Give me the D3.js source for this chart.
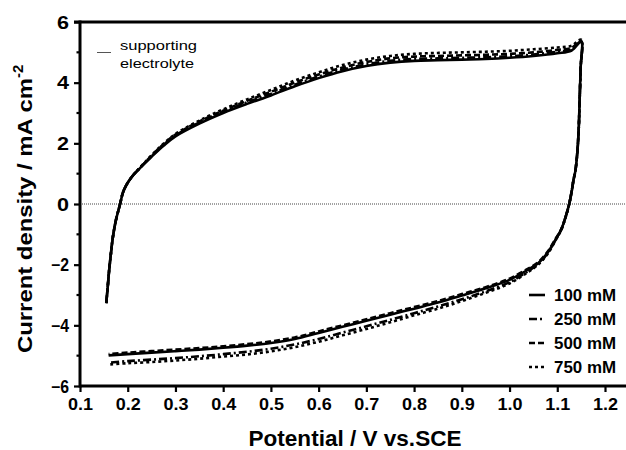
<!DOCTYPE html>
<html>
<head>
<meta charset="utf-8">
<script src="https://cdn.jsdelivr.net/npm/d3@7/dist/d3.min.js"></script>
<style>
  html, body { margin: 0; padding: 0; background: #fff; }
  svg { display: block; }
  text { font-family: "Liberation Sans", Arial, Helvetica, sans-serif; }
</style>
</head>
<body>
<svg id="chart" width="626" height="450"></svg>
<script>
// Potential grid (V vs. SCE) for the anodic and cathodic sweeps
const fwdPotential = [0.155,0.158,0.161,0.165,0.169,0.175,0.184,0.19,0.197,0.205,0.213,0.222,0.235,0.25,0.275,0.3,0.35,0.4,0.45,0.5,0.55,0.6,0.65,0.7,0.75,0.8,0.85,0.9,0.95,1.0,1.05,1.1,1.13,1.15];
const revPotential = [1.149,1.147,1.145,1.142,1.138,1.134,1.13,1.125,1.117,1.108,1.096,1.08,1.06,1.04,1.0,0.95,0.9,0.85,0.8,0.75,0.7,0.65,0.6,0.55,0.5,0.45,0.4,0.35,0.3,0.25,0.2,0.16];

// Current density (mA cm^-2) for each concentration
const fwd100 = [-3.27,-2.75,-2.2,-1.6,-1.08,-0.55,0,0.38,0.62,0.82,0.98,1.12,1.33,1.56,1.92,2.23,2.65,3.0,3.3,3.58,3.88,4.15,4.38,4.55,4.66,4.72,4.74,4.76,4.78,4.82,4.88,4.97,5.06,5.35];
const rev100 = [4.5,3.5,2.5,1.7,1.1,0.79,0.4,0,-0.45,-0.85,-1.18,-1.6,-1.95,-2.15,-2.5,-2.78,-3.02,-3.25,-3.45,-3.65,-3.85,-4.05,-4.25,-4.45,-4.58,-4.67,-4.74,-4.8,-4.85,-4.9,-4.95,-4.99];

const fwd250 = [-3.27,-2.75,-2.2,-1.6,-1.08,-0.55,0,0.38,0.62,0.82,0.98,1.13,1.34,1.58,1.95,2.26,2.69,3.04,3.35,3.63,3.93,4.2,4.43,4.6,4.72,4.78,4.8,4.82,4.84,4.87,4.93,5.02,5.1,5.36];
const rev250 = [4.5,3.5,2.5,1.7,1.1,0.79,0.4,0,-0.45,-0.86,-1.2,-1.62,-1.98,-2.2,-2.58,-2.88,-3.14,-3.38,-3.6,-3.82,-4.03,-4.24,-4.45,-4.63,-4.77,-4.87,-4.95,-5.02,-5.08,-5.13,-5.18,-5.23];

const fwd500 = [-3.27,-2.75,-2.2,-1.6,-1.08,-0.55,0,0.38,0.62,0.82,0.98,1.13,1.35,1.59,1.97,2.29,2.72,3.08,3.4,3.7,4.0,4.27,4.5,4.68,4.8,4.86,4.88,4.9,4.92,4.95,5.0,5.08,5.15,5.38];
const rev500 = [4.5,3.5,2.5,1.7,1.1,0.79,0.4,0,-0.45,-0.84,-1.16,-1.57,-1.92,-2.12,-2.46,-2.74,-2.97,-3.2,-3.4,-3.6,-3.8,-4.0,-4.2,-4.4,-4.53,-4.62,-4.69,-4.75,-4.8,-4.85,-4.9,-4.95];

const fwd750 = [-3.27,-2.75,-2.2,-1.6,-1.08,-0.55,0,0.38,0.62,0.82,0.99,1.14,1.36,1.61,1.99,2.31,2.75,3.12,3.45,3.76,4.07,4.34,4.58,4.76,4.88,4.95,4.98,5.0,5.02,5.05,5.1,5.16,5.22,5.42];
const rev750 = [4.5,3.5,2.5,1.7,1.1,0.79,0.4,0,-0.46,-0.87,-1.21,-1.64,-2.0,-2.23,-2.62,-2.93,-3.2,-3.45,-3.67,-3.9,-4.12,-4.33,-4.54,-4.72,-4.86,-4.96,-5.03,-5.1,-5.16,-5.21,-5.25,-5.29];

const seriesNames = ["100 mM", "250 mM", "500 mM", "750 mM"];
const seriesDash = ["none", "8,3,2,3", "6,3", "3,3"];
const fwdCurrents = [fwd100, fwd250, fwd500, fwd750];
const revCurrents = [rev100, rev250, rev500, rev750];

const xTicks = [0.1,0.2,0.3,0.4,0.5,0.6,0.7,0.8,0.9,1.0,1.1,1.2];
const yTicks = [-6,-4,-2,0,2,4,6];
const yMinorTicks = [-5,-3,-1,1,3,5];

const W = 626, H = 450;
const svg = d3.select("#chart");
svg.append("rect").attr("width", W).attr("height", H).attr("fill", "#fff");

const x = d3.scaleLinear().domain([0.1, 1.2]).range([80, 605]);
const y = d3.scaleLinear().domain([-6, 6]).range([386, 22]);

// zero-current reference line
svg.append("line")
  .attr("x1", x(0.1)).attr("x2", W)
  .attr("y1", y(0)).attr("y2", y(0))
  .attr("stroke", "#444").attr("stroke-width", 1)
  .attr("stroke-dasharray", "1,1");

// CV loops
const line = d3.line().x(d => x(d[0])).y(d => y(d[1])).curve(d3.curveCatmullRom.alpha(0.5));
seriesNames.forEach((name, i) => {
  const pts = fwdPotential.map((v, k) => [v, fwdCurrents[i][k]])
    .concat(revPotential.map((v, k) => [v, revCurrents[i][k]]));
  svg.append("path")
    .datum(pts)
    .attr("d", line)
    .attr("fill", "none")
    .attr("stroke", "#000")
    .attr("stroke-width", 2.6)
    .attr("stroke-dasharray", seriesDash[i]);
});

// frame: top line and axes
svg.append("line").attr("x1", 74).attr("x2", W).attr("y1", y(6)).attr("y2", y(6))
  .attr("stroke", "#000").attr("stroke-width", 3);

const xAxis = svg.append("g").attr("transform", `translate(0,${y(-6)})`)
  .call(d3.axisBottom(x).tickValues(xTicks).tickSize(6).tickSizeOuter(0)
        .tickFormat(d3.format(".1f")));
xAxis.select(".domain").remove();
xAxis.selectAll(".tick line").attr("stroke-width", 2.2);
xAxis.selectAll(".tick text")
  .attr("font-size", 16).attr("font-weight", "bold").attr("fill", "#000")
  .attr("y", 13).attr("dy", "0.71em")
  .attr("textLength", 25).attr("lengthAdjust", "spacingAndGlyphs");
svg.append("line").attr("x1", 80).attr("x2", W).attr("y1", y(-6)).attr("y2", y(-6))
  .attr("stroke", "#000").attr("stroke-width", 3);

const yAxis = svg.append("g").attr("transform", `translate(${x(0.1)},0)`)
  .call(d3.axisLeft(y).tickValues(yTicks).tickSize(6).tickSizeOuter(0)
        .tickFormat(d3.format("d")));
yAxis.select(".domain").remove();
yAxis.selectAll(".tick line").attr("stroke-width", 2.2);
yAxis.selectAll(".tick text")
  .attr("font-size", 17.5).attr("font-weight", "bold").attr("fill", "#000")
  .attr("x", -11).attr("dy", "0.35em")
  .each(function(d) {
    d3.select(this).attr("textLength", d < 0 ? 18 : 12).attr("lengthAdjust", "spacingAndGlyphs");
  });
svg.append("g").selectAll("line").data(yMinorTicks).join("line")
  .attr("x1", x(0.1) - 3.5).attr("x2", x(0.1))
  .attr("y1", d => y(d)).attr("y2", d => y(d))
  .attr("stroke", "#000").attr("stroke-width", 2.2);
svg.append("line").attr("x1", x(0.1)).attr("x2", x(0.1)).attr("y1", y(6) - 1.5).attr("y2", y(-6) + 1.5)
  .attr("stroke", "#000").attr("stroke-width", 3);

// axis titles
svg.append("text")
  .attr("x", 355).attr("y", 446)
  .attr("text-anchor", "middle")
  .attr("font-size", 22).attr("font-weight", "bold")
  .attr("textLength", 213).attr("lengthAdjust", "spacingAndGlyphs")
  .text("Potential / V vs.SCE");

const yt = svg.append("text")
  .attr("transform", "translate(32,353) rotate(-90)")
  .attr("font-size", 21).attr("font-weight", "bold");
yt.append("tspan").attr("textLength", 275).attr("lengthAdjust", "spacingAndGlyphs")
  .text("Current density / mA cm");
yt.append("tspan").attr("dy", -9).attr("font-size", 15).text("-2");

// legend: supporting electrolyte
svg.append("line").attr("x1", 97).attr("x2", 111).attr("y1", 52.5).attr("y2", 52.5)
  .attr("stroke", "#555").attr("stroke-width", 1);
svg.append("text").attr("x", 120).attr("y", 50).attr("font-size", 13.5).attr("fill", "#000")
  .attr("textLength", 77).attr("lengthAdjust", "spacingAndGlyphs").text("supporting");
svg.append("text").attr("x", 120).attr("y", 68).attr("font-size", 13.5).attr("fill", "#000")
  .attr("textLength", 74).attr("lengthAdjust", "spacingAndGlyphs").text("electrolyte");

// legend: concentrations
const leg = svg.append("g");
seriesNames.forEach((name, i) => {
  const ly = 295 + i * 24;
  leg.append("line").attr("x1", 529).attr("x2", 545).attr("y1", ly).attr("y2", ly)
    .attr("stroke", "#000").attr("stroke-width", 2.6).attr("stroke-dasharray", seriesDash[i]);
  leg.append("text").attr("x", 554).attr("y", ly + 5.8)
    .attr("font-size", 16).attr("font-weight", "bold")
    .attr("textLength", 62).attr("lengthAdjust", "spacingAndGlyphs")
    .text(name);
});
</script>
</body>
</html>
